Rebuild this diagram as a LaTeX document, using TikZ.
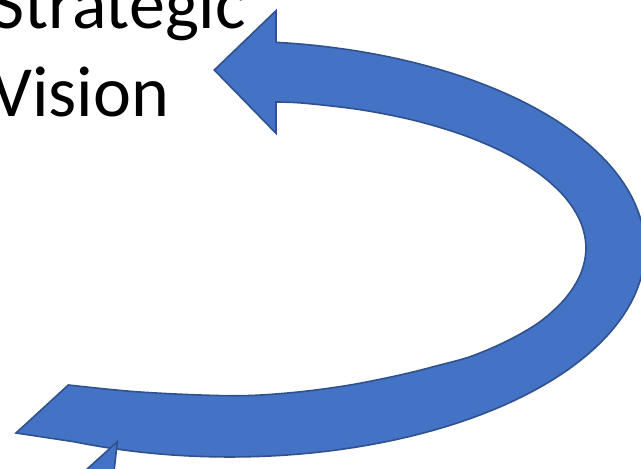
\documentclass[tikz,border=0pt]{standalone}
\usepackage{fontspec}
\setmainfont{Carlito}
\definecolor{arrowfill}{HTML}{4472C4}
\definecolor{arrowline}{HTML}{2F528F}
\begin{document}
\begin{tikzpicture}[x=1pt,y=-1pt,
  bluearrow/.style={fill=arrowfill, draw=arrowline, line width=1.6pt, line join=miter},
  bigtext/.style={inner sep=0pt, anchor=base west, font=\fontsize{72}{88}\selectfont}]
\useasboundingbox (0,0) rectangle (641,469);
% title text
\node[bigtext] (strategic) at (-9,28.3) {Strategic};
\node[bigtext] (vision) at (-9,116.7) {Vision};
% curved arrow: outer rim, tail cut, inner rim, arrowhead
\draw[bluearrow] (276,42)
  -- plot[domain=-83.6:112, samples=100] ({230+415*cos(\x)}, {249+208*sin(\x)})
  -- (16,433) -- (68.3,385)
  -- plot[smooth, tension=0.55] coordinates {(68.3,385) (133,391.5) (200,395) (250,395.5) (300,391.8) (350,385) (400,375) (440,365) (472,356)
     (508,340.5) (540.3,321.5) (565.4,298.3) (580.8,273.5) (586,248) (580.8,222.5) (565.4,197.7) (540.3,174.5)
     (506.2,153.5) (464.2,135.4) (415.5,120.7) (361.6,109.9) (304.2,103.2) (276,102)}
  -- (276,133.3) -- (214.3,70) -- (276,10.7) -- cycle;
% head of the following arrow
\draw[bluearrow] (117.3,441.7) -- (64,490) -- (112,490) -- cycle;
\end{tikzpicture}
\end{document}
